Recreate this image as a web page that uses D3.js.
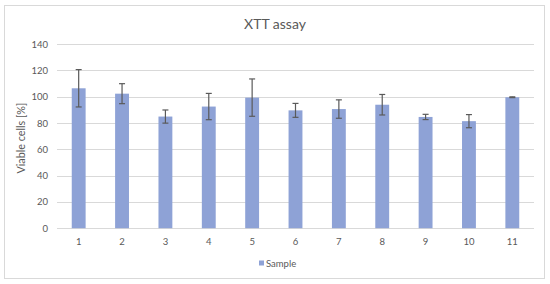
<!DOCTYPE html>
<html><head><meta charset="utf-8">
<script src="https://cdn.jsdelivr.net/npm/d3@7"></script>
<style>body{margin:0;background:#fff;} text{font-family:Lato,"Open Sans",sans-serif;}</style>
</head><body>
<svg id="c" width="550" height="284"></svg>
<script>
const categories = ["1","2","3","4","5","6","7","8","9","10","11"];
const values = [106.4, 102.3, 84.9, 92.5, 99.3, 89.6, 90.6, 93.9, 84.6, 81.4, 99.6];
const errors = [14.2, 7.6, 5.0, 10.0, 14.2, 5.3, 7.0, 7.8, 2.0, 5.0, 0.3];
const yTicks = [0, 20, 40, 60, 80, 100, 120, 140];
const seriesName = "Sample";
const titleText = "XTT assay";
const yTitle = "Viable cells [%]";

const svg = d3.select("#c");
const m = {left: 57, right: 534, top: 44.1, bottom: 228.2};
const x = d3.scaleBand().domain(categories).range([m.left, m.right]).paddingInner(0.68).paddingOuter(0.34);
const y = d3.scaleLinear().domain([0, 140]).range([m.bottom, m.top]);

svg.append("rect").attr("x", 4.5).attr("y", 5.5).attr("width", 540).attr("height", 273)
  .attr("fill", "#fff").attr("stroke", "#d9d9d9");

svg.append("text").attr("x", 275).attr("y", 29).attr("text-anchor", "middle")
  .attr("font-size", 14).attr("fill", "#595959").text(titleText);

// gridlines
svg.append("g").selectAll("line").data(yTicks).join("line")
  .attr("x1", m.left).attr("x2", m.right)
  .attr("y1", d => Math.round(y(d)) + 0.5).attr("y2", d => Math.round(y(d)) + 0.5)
  .attr("stroke", "#d9d9d9").attr("stroke-width", 1);

// y axis labels
const yAxis = d3.axisLeft(y).tickValues(yTicks).tickSize(0).tickPadding(9);
const ga = svg.append("g").attr("transform", `translate(${m.left},0)`).call(yAxis);
ga.select(".domain").remove();
ga.selectAll("text").attr("font-size", 9.5).attr("fill", "#595959").attr("font-family", "Lato, sans-serif");

// x axis labels
const xAxis = d3.axisBottom(x).tickSize(0).tickPadding(10);
const gx = svg.append("g").attr("transform", `translate(0,${m.bottom})`).call(xAxis);
gx.select(".domain").remove();
gx.selectAll("text").attr("font-size", 9.5).attr("fill", "#595959").attr("font-family", "Lato, sans-serif");

// bars
svg.append("g").selectAll("rect").data(values).join("rect")
  .attr("x", (d, i) => x(categories[i]))
  .attr("width", x.bandwidth())
  .attr("y", d => y(d))
  .attr("height", d => y(0) - y(d))
  .attr("fill", "#8ea2d6");

// error bars
const eg = svg.append("g").attr("stroke", "#5a5a5a").attr("stroke-width", 1.2);
values.forEach((v, i) => {
  const cx = x(categories[i]) + x.bandwidth() / 2;
  const t = y(v + errors[i]), b = y(v - errors[i]);
  eg.append("line").attr("x1", cx).attr("x2", cx).attr("y1", t).attr("y2", b);
  eg.append("line").attr("x1", cx - 3).attr("x2", cx + 3).attr("y1", t).attr("y2", t);
  eg.append("line").attr("x1", cx - 3).attr("x2", cx + 3).attr("y1", b).attr("y2", b);
});

// y title
svg.append("text").attr("transform", `translate(25,${(m.top + m.bottom) / 2 + 2}) rotate(-90)`)
  .attr("text-anchor", "middle").attr("font-size", 10.8).attr("fill", "#595959").text(yTitle);

// legend
const lg = svg.append("g").attr("transform", "translate(259,263)");
lg.append("rect").attr("x", 0).attr("y", -2.5).attr("width", 5).attr("height", 5).attr("fill", "#8ea2d6");
lg.append("text").attr("x", 7).attr("y", 3.5).attr("font-size", 9.5).attr("fill", "#595959").text(seriesName);
</script>
</body></html>
